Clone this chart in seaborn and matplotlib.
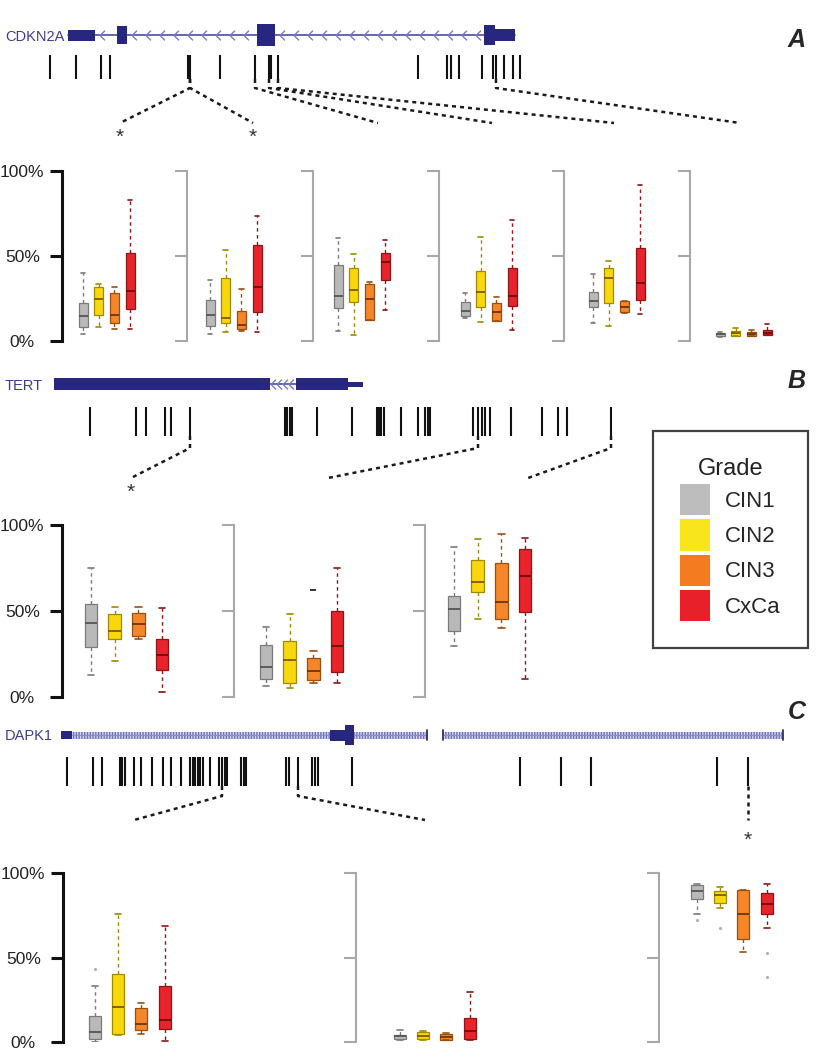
import numpy as np
import pandas as pd
import matplotlib
matplotlib.use("Agg")
import matplotlib.pyplot as plt
import seaborn as sns
from matplotlib.patches import Rectangle, Patch

sns.set_theme(style="white")
plt.rcParams["font.family"] = ["Liberation Sans", "DejaVu Sans"]

# ------------------------------------------------------------------ data
grades = ["CIN1", "CIN2", "CIN3", "CxCa"]
box_colors = ["#b9b9b9", "#f9d70e", "#f5872a", "#e8232b"]
edge_colors = ["#7a7a7a", "#a08a00", "#9a4f10", "#8e1515"]
median_colors = ["#555555", "#7a5a00", "#6e3508", "#6e0c0c"]
legend_colors = ["#bdbdbd", "#f9e51b", "#f47b20", "#e8202a"]

# five-number summaries per box: [whisker low, Q1, median, Q3, whisker high] (% methylation)
cdkn2a_stats = [
    [[3.9, 8.2, 14.7, 22.5, 40.0], [8.2, 15.1, 24.5, 31.8, 33.7], [7.3, 10.6, 15.5, 28.2, 31.8], [7.3, 18.6, 29.2, 52.0, 83.0]],
    [[3.9, 8.6, 15.5, 23.9, 35.7], [5.3, 10.8, 13.7, 37.0, 53.3], [5.9, 7.3, 9.6, 17.5, 30.4], [5.3, 17.0, 31.8, 56.7, 73.3]],
    [[5.9, 19.6, 26.3, 44.9, 60.8], [3.3, 22.9, 30.2, 42.9, 51.4], [12.2, 12.2, 24.5, 33.3, 34.7], [18.4, 35.7, 46.5, 51.8, 59.6]],
    [[13.6, 15.0, 17.9, 22.8, 28.2], [11.1, 20.2, 28.6, 41.2, 61.3], [11.7, 11.7, 17.3, 22.2, 25.7], [6.6, 20.4, 26.7, 43.2, 71.4]],
    [[10.5, 19.8, 23.7, 28.6, 39.7], [9.1, 22.4, 36.8, 42.8, 47.1], [16.3, 16.9, 20.2, 23.3, 23.3], [16.0, 24.3, 33.9, 54.9, 91.8]],
    [[2.5, 3.0, 4.0, 5.0, 5.5], [2.9, 2.9, 4.7, 5.6, 7.8], [2.9, 2.9, 4.3, 5.2, 6.2], [3.3, 3.3, 5.0, 6.6, 10.0]],
]
tert_stats = [
    [[13.0, 28.8, 43.3, 54.0, 74.9], [21.1, 33.8, 38.1, 48.4, 52.2], [33.8, 35.6, 42.6, 48.7, 52.2], [2.7, 15.5, 24.6, 33.8, 51.6]],
    [[6.6, 10.4, 17.4, 30.0, 40.6], [5.2, 8.1, 21.7, 32.3, 48.4], [8.1, 10.1, 15.3, 22.6, 26.5], [8.1, 14.5, 29.4, 50.1, 75.2]],
    [[29.8, 38.1, 51.1, 59.0, 87.4], [45.5, 60.9, 66.7, 79.7, 91.9], [40.0, 45.3, 55.5, 77.8, 94.8], [10.6, 49.7, 70.4, 86.1, 92.6]],
]
dapk1_stats = [
    [[0.0, 1.8, 5.7, 15.2, 33.3], [4.3, 4.7, 20.7, 40.4, 75.9], [4.7, 6.9, 10.8, 20.1, 23.1], [0.8, 7.9, 12.8, 33.3, 68.4]],
    [[1.4, 1.8, 3.3, 3.9, 6.9], [1.4, 1.8, 3.7, 5.7, 6.3], [1.0, 1.4, 2.9, 4.9, 5.3], [1.4, 2.0, 6.3, 14.1, 29.3]],
    [[76.0, 84.9, 89.4, 93.1, 93.7], [79.0, 82.3, 86.8, 89.2, 91.7], [53.4, 60.7, 75.6, 90.2, 90.2], [67.2, 75.6, 81.9, 88.2, 93.3]],
]
# outliers: (panel, grade, value)
tert_outliers = [(1, "CIN3", 62.3)]
dapk1_outliers = [(0, "CIN1", 43.0), (2, "CIN1", 72.0), (2, "CIN2", 67.6), (2, "CxCa", 52.5), (2, "CxCa", 38.3)]

# gene tracks (horizontal track coordinates)
cdkn2a_span = (68, 515)
cdkn2a_exons = [(68, 95, 5.5), (117, 127, 9), (257, 275, 11), (484, 495, 10), (495, 515, 6)]
cdkn2a_sites = [50, 76, 101, 110, 188, 190, 220, 255, 269, 271, 278, 418, 447, 451, 459, 482, 493, 496, 504, 513, 520]
tert_exons = [(54, 270, 6), (296, 348, 6), (348, 363, 2.5)]
tert_intron = (270, 296)
tert_sites = [90, 136, 146, 165, 171, 190, 285, 287, 290, 292, 317, 352, 377, 379, 381, 384, 401, 418,
              425, 428, 430, 473, 478, 482, 485, 490, 511, 542, 558, 567, 611]
dapk1_exons = [(61, 72, 4), (330, 345, 5.5), (345, 354, 10)]
dapk1_introns = [(72, 330), (354, 427), (443, 783)]
dapk1_sites = [67, 93, 102, 120, 122, 125, 134, 141, 152, 163, 171, 181, 190, 193, 195, 198, 200, 203,
               210, 219, 222, 225, 227, 241, 244, 246, 286, 289, 298, 312, 315, 318, 352, 520, 561, 591, 717, 748]
# connectors: (site, end x, starred)
cdkn2a_links = [(190, 120, True), (190, 253, True), (255, 378, False), (269, 492, False), (278, 614, False), (496, 740, False)]
tert_links = [(190, 131, True), (478, 328, False), (611, 528, False)]
dapk1_links = [(222, 134, False), (298, 425, False), (748, 748, True)]

# ------------------------------------------------------------------ figure
W, H = 823, 1050
fig = plt.figure(figsize=(W / 100, H / 100), dpi=100)
bg = fig.add_axes([0, 0, 1, 1])
bg.set_xlim(0, W)
bg.set_ylim(H, 0)
bg.axis("off")

EXON = "#27277f"
INTRON = "#5a5aa8"
CHEV = "#7b7bc4"
NAMEC = "#3d3d8f"
chev_marker = [(0.5, 1.0), (-0.5, 0.0), (0.5, -1.0)]


def chevrons(x0, x1, y, step):
    xs = np.arange(x0 + step / 2, x1 - 2, step)
    bg.plot(xs, np.full_like(xs, y, dtype=float), ls="none", marker=chev_marker, ms=7,
            mfc="none", mec=CHEV, mew=1.0, zorder=2)


def exons(ex, y):
    for x0, x1, hh in ex:
        bg.add_patch(Rectangle((x0, y - hh), x1 - x0, 2 * hh, facecolor=EXON, edgecolor="none", zorder=3))


def sites(xs, y0, y1):
    bg.vlines(xs, y0, y1, color="#111111", lw=1.5, zorder=3)


def links(lk, y0, y1, yend, star_y):
    for sx, ex, star in lk:
        bg.plot([sx, sx, ex], [y0, y1, yend], color="#1a1a1a", lw=1.8, ls=(0, (1.6, 1.6)), zorder=3)
        if star:
            bg.text(ex, star_y, "*", ha="center", va="center", fontsize=15, color="#333333")


# --- CDKN2A
yA = 35
bg.plot(cdkn2a_span, [yA, yA], color=INTRON, lw=1.3, zorder=1)
for a, b in [(95, 117), (127, 257), (275, 484)]:
    chevrons(a, b, yA, 14)
exons(cdkn2a_exons, yA)
bg.text(5, yA + 2, "CDKN2A", fontsize=10.5, color=NAMEC, va="center", ha="left")
sites(cdkn2a_sites, 55, 79)
links(cdkn2a_links, 79, 88, 123, 137)
bg.text(797, 40, "A", fontsize=18, fontweight="bold", fontstyle="italic", ha="center", va="center")

# --- TERT
yB = 384
bg.plot(tert_intron, [yB, yB], color=INTRON, lw=1.3, zorder=1)
chevrons(tert_intron[0], tert_intron[1] + 2, yB, 6)
exons(tert_exons, yB)
bg.text(5, yB + 2, "TERT", fontsize=10.5, color=NAMEC, va="center", ha="left")
sites(tert_sites, 407, 436)
links(tert_links, 436, 448, 478, 492)
bg.text(797, 381, "B", fontsize=18, fontweight="bold", fontstyle="italic", ha="center", va="center")

# --- DAPK1
yC = 735
for a, b in dapk1_introns:
    bg.add_patch(Rectangle((a, yC - 3.5), b - a, 7, facecolor="#d4d4f0", edgecolor="#7070c0",
                           lw=0, hatch="||||||", zorder=1))
    bg.plot([a, b], [yC, yC], color="#8a8ad0", lw=0.8, zorder=2)
for endx in [427, 443, 783]:
    bg.plot([endx, endx], [yC - 5, yC + 5], color="#333366", lw=1.3, zorder=2)
exons(dapk1_exons, yC)
bg.text(5, yC + 1, "DAPK1", fontsize=10.5, color=NAMEC, va="center", ha="left")
sites(dapk1_sites, 757, 786)
links(dapk1_links, 786, 796, 820, 840)
bg.text(797, 712, "C", fontsize=18, fontweight="bold", fontstyle="italic", ha="center", va="center")


# ------------------------------------------------------------------ box panels
def box_panel(spine_x, top_y, bottom_y, first_off, spacing, box_w, stats, outliers, main, width_px):
    ax = fig.add_axes([spine_x / W, 1 - bottom_y / H, width_px / W, (bottom_y - top_y) / H])
    ax.patch.set_alpha(0)
    rows = [(g, v) for g, s in zip(grades, stats) for v in s]
    df = pd.DataFrame(rows, columns=["grade", "value"])
    sns.boxplot(data=df, x="grade", y="value", hue="grade", order=grades, hue_order=grades,
                palette=dict(zip(grades, box_colors)), saturation=1, whis=(0, 100),
                width=box_w / spacing, showfliers=False, linewidth=0.9, legend=False, ax=ax)
    for cont, ec, mc in zip(ax.containers, edge_colors, median_colors):
        for b in cont.boxes:
            b.set_edgecolor(ec)
        for m in cont.medians:
            m.set_color(mc)
            m.set_linewidth(1.3)
        for w in cont.whiskers:
            w.set_color(ec)
            w.set_linestyle((0, (2.5, 2.5)))
            w.set_linewidth(1.0)
        for c in cont.caps:
            c.set_color(ec)
            c.set_linewidth(1.2)
    for g, v in outliers:
        i = grades.index(g)
        if v > 60 and g == "CIN3":
            ax.plot(i, v, marker="_", ms=5, mew=1.4, color="#333333")
        else:
            ax.plot(i, v, marker=".", ms=2.5, color="#b0b0b0")
    ax.set_xlim(-first_off / spacing, (width_px - first_off) / spacing)
    ax.set_ylim(0, 100)
    ax.set_xlabel("")
    ax.set_ylabel("")
    ax.set_xticks([])
    for s in ["top", "right", "bottom"]:
        ax.spines[s].set_visible(False)
    col = "#111111" if main else "#a8a8a8"
    lw = 2.2 if main else 1.5
    ax.spines["left"].set_color(col)
    ax.spines["left"].set_linewidth(lw)
    ax.set_yticks([0, 50, 100])
    ax.tick_params(axis="y", left=True, direction="out", length=8.6, width=lw, color=col, pad=20)
    if main:
        ax.set_yticklabels(["0%", "50%", "100%"], fontsize=12.5, color="#222222", ha="center")
    else:
        ax.set_yticklabels([])
    ax.grid(False)
    return ax


A_spines = [62, 187, 313, 439, 564, 690]
A_offs = [21, 23, 25, 26, 29, 30]
for k, (sx, off) in enumerate(zip(A_spines, A_offs)):
    box_panel(sx, 171, 341, off, 15.7, 9, cdkn2a_stats[k], [], k == 0, 112)

B_spines = [62, 234, 425]
B_offs = [29, 32, 29]
for k, (sx, off) in enumerate(zip(B_spines, B_offs)):
    outs = [(g, v) for p, g, v in tert_outliers if p == k]
    box_panel(sx, 525, 697, off, 23.7, 12.5, tert_stats[k], outs, k == 0, 160)

C_spines = [63, 356, 659]
C_offs = [32, 44, 38]
for k, (sx, off) in enumerate(zip(C_spines, C_offs)):
    outs = [(g, v) for p, g, v in dapk1_outliers if p == k]
    box_panel(sx, 873, 1042, off, 23.2, 12, dapk1_stats[k], outs, k == 0, 160)

# ------------------------------------------------------------------ legend
handles = [Patch(facecolor=c, edgecolor="none") for c in legend_colors]
leg = fig.legend(handles, grades, title="Grade", loc="upper left",
                 bbox_to_anchor=(653 / W, 1 - 431 / H), frameon=True, fancybox=False,
                 edgecolor="#111111", fontsize=16, title_fontsize=17, handlelength=1.35,
                 handleheight=1.8, handletextpad=0.7, labelspacing=0.18, borderpad=1.2,
                 borderaxespad=0)
leg.get_frame().set_linewidth(1.6)
leg.get_title().set_color("#222222")

fig.savefig("out.png", dpi=100)
